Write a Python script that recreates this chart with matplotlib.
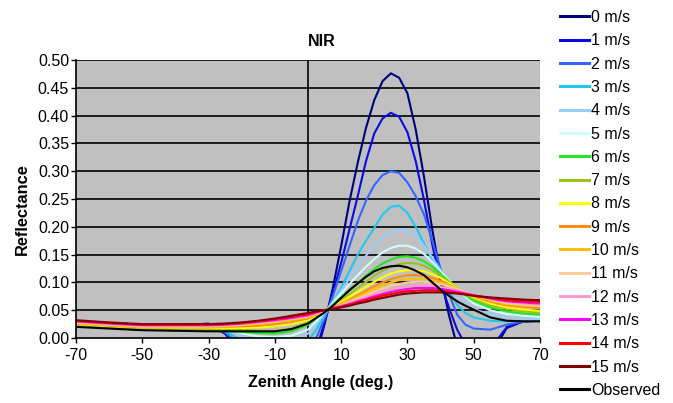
import matplotlib
matplotlib.use("Agg")
import matplotlib.pyplot as plt

plt.rcParams['font.family'] = ['Liberation Sans', 'DejaVu Sans']
plt.rcParams['axes.unicode_minus'] = False

angles = [-70, -60, -50, -40, -30, -25, -20, -15, -10, -5, 0, 2.5, 5, 7.5, 10, 12.5, 15, 17.5,
          20, 22.5, 25, 27.5, 30, 32.5, 35, 37.5, 40, 42.5, 45, 47.5, 50, 55, 60, 65, 70]

ws0 = [0.022, 0.021, 0.021, 0.022, 0.024, 0.008, -0.03, -0.07, -0.09, -0.09, -0.06, -0.03, 0.025, 0.09, 0.165, 0.245, 0.315, 0.378, 0.428, 0.462, 0.476, 0.468, 0.44, 0.375, 0.29, 0.195, 0.112, 0.042, -0.015, -0.05, -0.07, -0.03, 0.018, 0.03, 0.031]
ws1 = [0.022, 0.021, 0.021, 0.022, 0.026, 0.008, -0.025, -0.06, -0.08, -0.08, -0.05, -0.02, 0.028, 0.08, 0.135, 0.195, 0.255, 0.318, 0.368, 0.395, 0.405, 0.398, 0.37, 0.318, 0.248, 0.168, 0.10, 0.055, 0.015, -0.012, -0.035, -0.02, 0.02, 0.03, 0.031]
ws2 = [0.022, 0.021, 0.021, 0.022, 0.022, 0.01, -0.015, -0.04, -0.05, -0.045, -0.02, 0.0, 0.035, 0.075, 0.12, 0.165, 0.21, 0.247, 0.275, 0.293, 0.30, 0.297, 0.28, 0.255, 0.222, 0.175, 0.125, 0.08, 0.042, 0.024, 0.017, 0.015, 0.024, 0.03, 0.031]
ws3 = [0.022, 0.021, 0.021, 0.022, 0.022, 0.012, -0.005, -0.02, -0.025, -0.02, -0.005, 0.015, 0.04, 0.065, 0.09, 0.12, 0.15, 0.175, 0.198, 0.222, 0.236, 0.238, 0.225, 0.20, 0.17, 0.14, 0.11, 0.085, 0.06, 0.045, 0.037, 0.031, 0.03, 0.03, 0.031]
ws4 = [0.022, 0.021, 0.021, 0.022, 0.022, 0.016, 0.004, -0.004, -0.008, -0.005, 0.008, 0.025, 0.045, 0.065, 0.085, 0.107, 0.128, 0.148, 0.165, 0.18, 0.19, 0.195, 0.193, 0.183, 0.166, 0.145, 0.122, 0.1, 0.08, 0.064, 0.052, 0.042, 0.037, 0.035, 0.034]
ws5 = [0.022, 0.021, 0.021, 0.022, 0.022, 0.018, 0.008, 0.003, 0.002, 0.004, 0.015, 0.03, 0.047, 0.063, 0.08, 0.097, 0.113, 0.128, 0.142, 0.154, 0.162, 0.166, 0.166, 0.161, 0.151, 0.137, 0.12, 0.104, 0.088, 0.074, 0.062, 0.05, 0.043, 0.04, 0.038]
ws6 = [0.023, 0.02, 0.017, 0.016, 0.015, 0.013, 0.011, 0.009, 0.008, 0.012, 0.024, 0.036, 0.048, 0.06, 0.073, 0.086, 0.099, 0.112, 0.124, 0.134, 0.141, 0.146, 0.147, 0.144, 0.138, 0.128, 0.115, 0.102, 0.089, 0.077, 0.067, 0.055, 0.048, 0.044, 0.042]
ws7 = [0.024, 0.021, 0.018, 0.017, 0.016, 0.016, 0.015, 0.013, 0.013, 0.017, 0.028, 0.039, 0.049, 0.058, 0.068, 0.079, 0.09, 0.101, 0.112, 0.121, 0.128, 0.133, 0.135, 0.134, 0.13, 0.122, 0.112, 0.101, 0.09, 0.08, 0.071, 0.059, 0.052, 0.048, 0.046]
ws8 = [0.025, 0.021, 0.019, 0.018, 0.018, 0.018, 0.018, 0.019, 0.021, 0.025, 0.032, 0.041, 0.049, 0.057, 0.065, 0.074, 0.083, 0.092, 0.101, 0.109, 0.116, 0.12, 0.122, 0.122, 0.12, 0.115, 0.108, 0.099, 0.09, 0.081, 0.073, 0.062, 0.055, 0.051, 0.049]
ws9 = [0.026, 0.022, 0.019, 0.019, 0.019, 0.02, 0.021, 0.022, 0.025, 0.029, 0.035, 0.042, 0.049, 0.056, 0.062, 0.069, 0.077, 0.085, 0.093, 0.1, 0.106, 0.11, 0.113, 0.113, 0.112, 0.108, 0.103, 0.096, 0.089, 0.081, 0.075, 0.065, 0.059, 0.056, 0.054]
ws10 = [0.027, 0.023, 0.02, 0.02, 0.02, 0.021, 0.023, 0.025, 0.028, 0.032, 0.037, 0.043, 0.049, 0.055, 0.061, 0.067, 0.074, 0.081, 0.088, 0.094, 0.1, 0.104, 0.106, 0.107, 0.107, 0.104, 0.1, 0.095, 0.089, 0.082, 0.077, 0.067, 0.061, 0.058, 0.057]
ws11 = [0.028, 0.024, 0.021, 0.021, 0.021, 0.022, 0.024, 0.027, 0.03, 0.034, 0.039, 0.044, 0.049, 0.054, 0.059, 0.065, 0.071, 0.077, 0.083, 0.089, 0.094, 0.097, 0.1, 0.101, 0.101, 0.1, 0.097, 0.093, 0.088, 0.083, 0.078, 0.069, 0.063, 0.06, 0.058]
ws12 = [0.029, 0.025, 0.022, 0.022, 0.022, 0.023, 0.025, 0.028, 0.031, 0.035, 0.04, 0.045, 0.05, 0.054, 0.058, 0.063, 0.068, 0.074, 0.079, 0.084, 0.088, 0.091, 0.094, 0.095, 0.095, 0.094, 0.092, 0.089, 0.086, 0.082, 0.078, 0.07, 0.065, 0.062, 0.06]
ws13 = [0.03, 0.026, 0.023, 0.023, 0.023, 0.024, 0.026, 0.029, 0.032, 0.036, 0.041, 0.046, 0.05, 0.054, 0.057, 0.061, 0.066, 0.07, 0.075, 0.079, 0.083, 0.086, 0.088, 0.09, 0.09, 0.09, 0.088, 0.086, 0.083, 0.08, 0.077, 0.071, 0.066, 0.064, 0.062]
ws14 = [0.031, 0.027, 0.024, 0.024, 0.024, 0.025, 0.027, 0.03, 0.034, 0.038, 0.043, 0.047, 0.05, 0.053, 0.056, 0.06, 0.064, 0.068, 0.072, 0.076, 0.079, 0.082, 0.084, 0.085, 0.086, 0.086, 0.085, 0.083, 0.081, 0.079, 0.076, 0.072, 0.068, 0.066, 0.065]
ws15 = [0.032, 0.028, 0.025, 0.025, 0.025, 0.026, 0.028, 0.031, 0.035, 0.04, 0.045, 0.048, 0.05, 0.052, 0.055, 0.058, 0.062, 0.065, 0.069, 0.072, 0.075, 0.078, 0.08, 0.081, 0.082, 0.082, 0.082, 0.081, 0.08, 0.078, 0.076, 0.073, 0.071, 0.069, 0.068]
observed = [0.020, 0.017, 0.014, 0.013, 0.012, 0.012, 0.012, 0.012, 0.012, 0.016, 0.026, 0.036, 0.046, 0.058, 0.072, 0.086, 0.098, 0.11, 0.12, 0.126, 0.129, 0.13, 0.127, 0.121, 0.113, 0.1, 0.087, 0.076, 0.066, 0.058, 0.051, 0.037, 0.031, 0.03, 0.03]

series_labels = ['0 m/s', '1 m/s', '2 m/s', '3 m/s', '4 m/s', '5 m/s', '6 m/s', '7 m/s', '8 m/s',
                 '9 m/s', '10 m/s', '11 m/s', '12 m/s', '13 m/s', '14 m/s', '15 m/s', 'Observed']
series_values = [ws0, ws1, ws2, ws3, ws4, ws5, ws6, ws7, ws8, ws9, ws10, ws11, ws12, ws13, ws14, ws15, observed]
colors = ['#00007a', '#0a0ae6', '#3366ff', '#1ec8f0', '#99ccff', '#ccffff', '#22e622', '#99c21a',
          '#ffff00', '#ff8c1a', '#ffc000', '#ffcc99', '#ff99cc', '#ff00ff', '#ff0000', '#800000', '#000000']

xticks = [-70, -50, -30, -10, 10, 30, 50, 70]
yticks = [0.00, 0.05, 0.10, 0.15, 0.20, 0.25, 0.30, 0.35, 0.40, 0.45, 0.50]

W, H = 673, 403
fig = plt.figure(figsize=(W / 100, H / 100), dpi=100)
ax = fig.add_axes([76 / W, 1 - 338 / H, (540 - 76) / W, (338 - 60) / H])
ax.set_facecolor('#c0c0c0')

for yv in yticks[1:]:
    ax.axhline(yv, color='black', lw=1.2, zorder=1)
ax.axvline(0, color='black', lw=1.2, zorder=1)

for lab, vals, c in zip(series_labels, series_values, colors):
    ax.plot(angles, vals, color=c, lw=1.5, label=lab, zorder=2)

ax.set_xlim(-70, 70)
ax.set_ylim(0, 0.5)
ax.set_xticks(xticks)
ax.set_yticks(yticks)
ax.set_yticklabels([f'{v:.2f}' for v in yticks])
ax.tick_params(axis='both', labelsize=11.5, direction='out', length=3.5, width=1, color='black')
ax.tick_params(axis='y', pad=1.5)
ax.tick_params(axis='x', pad=4)
for s in ['top', 'right']:
    ax.spines[s].set_visible(False)
for s in ['left', 'bottom']:
    ax.spines[s].set_color('black')
    ax.spines[s].set_linewidth(1.2)
    ax.spines[s].set_zorder(3)

fig.text(321 / W, 1 - 383 / H, 'Zenith Angle (deg.)', ha='center', va='center',
         fontsize=11.6, fontweight='bold')
fig.text(22 / W, 1 - 209 / H, 'Reflectance', ha='center', va='center', rotation=90,
         fontsize=11.8, fontweight='bold')
fig.text(322 / W, 1 - 42 / H, 'NIR', ha='center', va='center', fontsize=11.5, fontweight='bold')

handles, labels = ax.get_legend_handles_labels()
leg = fig.legend(handles, labels, loc='upper left', bbox_to_anchor=(560 / W, 1 - 10 / H),
                 frameon=False, fontsize=11.5, labelspacing=0.52, handlelength=1.8,
                 handletextpad=0.15, borderaxespad=0, borderpad=0)
for ln in leg.get_lines():
    ln.set_linewidth(2.2)

fig.savefig('out.png', dpi=100)
